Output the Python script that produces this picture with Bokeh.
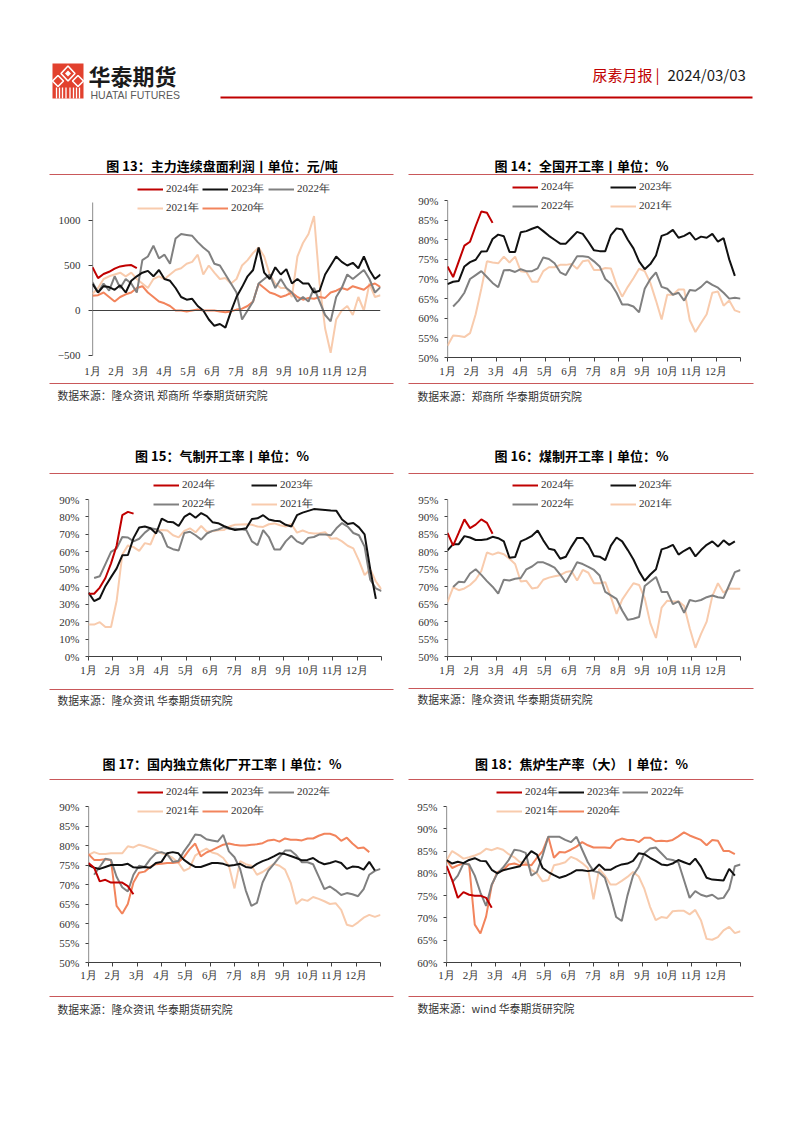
from bokeh.plotting import figure
from bokeh.layouts import column, row
from bokeh.models import Range1d, FixedTicker, PrintfTickFormatter, Legend, LegendItem, Span
from bokeh.embed import file_html
from bokeh.resources import INLINE
from bokeh.core.properties import value

# ---------------- data ----------------
MONTH_LABELS = ["1月", "2月", "3月", "4月", "5月", "6月", "7月", "8月", "9月", "10月", "11月", "12月"]

# Fig 13 profit (yuan/ton), weekly samples
p13_2024 = [480, 360, 405, 430, 465, 490, 500, 505, 470]
p13_2023 = [296, 200, 270, 260, 230, 280, 200, 330, 380, 420, 440, 380, 450, 350, 330, 250, 150, 120, 130, 50,
            0, -100, -170, -150, -190, -10, 150, 260, 380, 450, 700, 420, 350, 480, 400, 460, 300, 350, 300, 300,
            200, 220, 400, 500, 600, 540, 500, 530, 470, 600, 450, 350, 400]
p13_2022 = [315, 200, 300, 220, 380, 250, 350, 300, 200, 560, 600, 720, 580, 620, 520, 800, 850, 840, 830, 760,
            700, 650, 520, 500, 400, 300, 200, -100, 0, 100, 300, 350, 400, 250, 350, 250, 200, 100, 150, 100,
            250, 100, -50, -120, 150, 250, 400, 350, 400, 450, 350, 200, 260]
p13_2021 = [185, 250, 350, 380, 400, 420, 380, 420, 350, 300, 250, 350, 380, 350, 400, 450, 470, 520, 540, 620,
            400, 500, 420, 350, 360, 300, 350, 500, 560, 640, 700, 600, 400, 300, 250, 250, 150, 600, 750, 850,
            1050, 300, -200, -470, -100, 0, 50, -50, 150, 0, 300, 150, 170]
p13_2020 = [165, 170, 200, 150, 100, 150, 180, 200, 250, 270, 200, 150, 100, 80, 50, 0, 0, -10, 0, 10,
            0, 0, 0, -10, -20, -10, 10, 20, 50, 100, 300, 250, 200, 180, 150, 170, 200, 150, 120, 140,
            130, 150, 140, 200, 220, 250, 230, 270, 250, 230, 280, 300, 260]

# Fig 14 national operating rate (%)
p14_2024 = [73.2, 70.5, 74.5, 78.5, 79.5, 83.5, 87.2, 86.9, 84.3]
p14_2023 = [68.7, 69.3, 69.5, 73.2, 74.3, 74.9, 77.0, 77.1, 80.2, 81.3, 80.9, 76.9, 76.9, 81.9, 82.2, 82.8, 83.3,
            82.2, 81.0, 80.0, 79.0, 79.0, 80.5, 82.0, 81.5, 79.5, 77.3, 77.1, 77.1, 81.2, 82.9, 82.6, 80.0, 77.8,
            74.5, 72.5, 73.8, 76.0, 81.0, 81.5, 82.5, 80.5, 81.0, 81.8, 80.0, 80.8, 80.5, 81.5, 79.5, 80.4, 75.0, 70.8]
p14_2022 = [63.0, 64.5, 66.5, 70.0, 71.0, 72.0, 70.5, 69.0, 67.9, 72.2, 72.3, 71.8, 72.5, 72.0, 72.0, 72.7, 75.5,
            75.1, 74.0, 71.7, 71.0, 73.5, 75.8, 75.8, 75.6, 74.5, 73.2, 70.0, 68.8, 66.5, 63.5, 63.5, 63.0, 61.5,
            67.5, 70.0, 71.7, 68.0, 67.5, 66.0, 66.5, 64.5, 67.2, 67.0, 68.0, 69.4, 68.5, 67.8, 66.5, 65.0, 65.2, 65.0]
p14_2021 = [53.0, 55.6, 55.5, 55.2, 56.2, 61.0, 67.5, 74.5, 74.2, 74.0, 75.7, 74.2, 75.7, 72.0, 71.8, 69.3, 69.3,
            72.0, 73.0, 73.0, 73.6, 73.6, 73.8, 72.6, 74.5, 74.8, 72.3, 72.3, 72.8, 72.7, 68.5, 65.5, 68.0, 70.2,
            72.6, 72.0, 69.0, 64.5, 59.7, 66.0, 66.0, 67.3, 67.3, 59.5, 56.5, 58.8, 61.0, 66.5, 66.8, 63.2, 64.5,
            62.0, 61.5]

# Fig 15 gas-based operating rate (%)
p15_2024 = [36.0, 36.0, 39.5, 45.0, 53.4, 63.6, 81.0, 82.9, 81.9]
p15_2023 = [36.6, 31.8, 33.4, 40.3, 45.5, 50.5, 58.0, 58.2, 68.0, 74.0, 74.5, 73.5, 70.5, 79.0, 77.3, 77.0, 74.8,
            80.0, 82.0, 79.5, 82.2, 80.5, 77.0, 76.4, 74.8, 73.5, 72.5, 73.0, 73.5, 78.8, 79.2, 81.0, 78.5, 77.8,
            77.5, 75.5, 74.5, 81.0, 82.5, 83.5, 84.5, 84.3, 84.0, 83.7, 83.5, 78.5, 76.0, 76.5, 74.0, 70.0, 50.0, 33.0]
p15_2022 = [45.0, 46.0, 53.0, 60.0, 62.0, 68.5, 68.2, 66.0, 67.5, 71.0, 73.5, 73.0, 70.5, 63.0, 61.5, 60.8, 70.8,
            71.5, 69.5, 67.0, 70.5, 72.0, 72.8, 74.2, 73.2, 73.2, 73.0, 72.5, 66.0, 63.8, 72.5, 68.5, 61.3, 61.3,
            66.0, 69.2, 66.0, 64.5, 68.0, 68.5, 70.0, 70.0, 69.5, 73.5, 76.5, 74.5, 70.8, 69.5, 63.0, 44.0, 39.0, 37.5]
p15_2021 = [18.3, 18.3, 19.7, 16.9, 16.9, 32.0, 58.5, 63.7, 62.7, 60.6, 65.0, 64.2, 71.9, 72.5, 72.2, 69.5, 68.3,
            72.0, 73.5, 71.2, 74.8, 71.5, 71.8, 72.3, 72.5, 74.5, 75.5, 75.7, 75.8, 75.5, 74.5, 74.3, 75.8, 76.3,
            75.2, 74.5, 76.0, 71.0, 72.2, 71.0, 70.5, 70.6, 71.3, 67.5, 67.8, 66.0, 63.5, 62.0, 55.0, 46.7, 50.0,
            43.0, 38.5]

# Fig 16 coal-based operating rate (%)
p16_2024 = [85.4, 81.8, 85.5, 89.3, 86.8, 87.8, 89.3, 88.3, 85.2]
p16_2023 = [80.4, 82.2, 82.2, 84.5, 84.1, 83.4, 83.4, 83.6, 84.3, 83.9, 83.0, 78.3, 78.5, 83.0, 83.7, 84.6, 86.1,
            83.3, 80.9, 80.5, 78.0, 78.6, 81.5, 84.0, 84.0, 82.0, 78.8, 78.6, 77.6, 81.8, 84.1, 83.0, 80.5, 77.8,
            74.4, 71.7, 73.5, 75.0, 80.7, 81.2, 82.0, 79.2, 80.3, 81.2, 78.7, 80.5, 82.0, 83.0, 81.5, 83.3, 82.0, 83.0]
p16_2022 = [69.9, 71.4, 71.3, 73.8, 75.0, 73.4, 71.6, 70.0, 68.0, 72.0, 71.8, 72.3, 72.5, 75.0, 75.8, 77.0, 77.0,
            76.3, 75.5, 73.5, 71.2, 74.0, 77.0, 76.5, 75.7, 74.8, 73.2, 68.5, 67.5, 66.5, 63.2, 60.5, 60.8, 61.3,
            70.2, 71.5, 72.8, 68.5, 68.5, 65.0, 65.8, 62.5, 66.2, 65.8, 66.2, 67.0, 67.5, 67.0, 66.8, 70.5, 74.2, 74.8]
p16_2021 = [65.6, 69.8, 69.0, 69.5, 70.5, 72.0, 74.5, 79.8, 79.2, 79.8, 79.3, 78.0, 76.5, 71.5, 71.7, 69.5, 69.8,
            72.0, 72.6, 73.0, 73.3, 74.2, 74.5, 71.8, 74.8, 74.0, 71.0, 71.0, 71.3, 67.0, 62.2, 66.3, 68.7, 71.0,
            70.5, 66.7, 59.5, 55.3, 64.0, 66.0, 65.8, 65.8, 64.5, 58.0, 52.5, 56.5, 60.0, 67.3, 71.0, 68.3, 69.5,
            69.4, 69.4]

# Fig 17 independent coking plant operating rate (%)
p17_2024 = [75.5, 74.3, 70.8, 71.2, 70.5, 70.5, 70.5, 69.6, 67.5]
p17_2023 = [75.0, 74.3, 74.0, 74.5, 75.0, 75.0, 75.0, 75.3, 74.4, 74.3, 74.5, 74.3, 75.5, 75.8, 78.0, 78.3, 78.0,
            76.3, 75.3, 74.5, 74.5, 75.0, 75.5, 75.5, 75.3, 74.8, 75.0, 75.3, 74.5, 74.3, 75.3, 76.0, 76.5, 77.2,
            78.0, 77.8, 77.3, 76.8, 76.2, 76.3, 76.8, 75.8, 75.2, 75.5, 76.0, 75.5, 74.0, 74.6, 74.5, 73.8, 75.8, 73.6]
p17_2022 = [72.5, 74.5, 76.6, 76.3, 72.0, 69.3, 68.2, 72.5, 74.8, 74.5, 76.5, 78.0, 78.3, 77.8, 75.8, 76.0, 78.5,
            80.5, 82.8, 82.6, 81.6, 81.3, 81.0, 82.7, 78.5, 77.0, 74.0, 68.5, 64.5, 65.3, 70.5, 73.5, 75.2, 77.0,
            78.7, 78.7, 77.5, 75.7, 75.7, 75.2, 72.0, 68.8, 69.5, 68.5, 67.3, 67.8, 67.5, 67.0, 68.8, 72.5, 73.5, 74.0]
p17_2021 = [77.6, 78.3, 77.8, 77.8, 78.0, 78.0, 78.0, 79.8, 79.5, 80.2, 79.8, 79.3, 78.8, 78.0, 77.6, 76.8, 75.6,
            73.5, 74.2, 77.4, 78.4, 79.2, 78.2, 77.8, 76.8, 74.8, 69.0, 76.0, 75.2, 74.8, 72.5, 73.2, 74.2, 75.3,
            74.8, 73.8, 70.5, 65.0, 66.2, 65.8, 66.8, 66.3, 65.7, 65.0, 65.2, 63.5, 59.7, 59.3, 60.3, 61.5, 62.2,
            61.7, 62.2]
p17_2020 = [77.8, 76.3, 76.3, 76.5, 76.3, 64.5, 62.5, 65.0, 70.5, 73.0, 73.3, 74.5, 75.2, 75.3, 75.5, 75.5, 75.7,
            77.0, 79.0, 80.5, 77.2, 78.2, 78.8, 79.5, 80.2, 80.5, 80.2, 80.0, 80.0, 80.2, 80.3, 80.6, 81.3, 81.5,
            81.0, 81.8, 81.5, 81.5, 81.3, 81.8, 81.8, 82.5, 83.0, 83.0, 82.5, 81.2, 82.0, 80.5, 79.3, 79.5, 78.3]

# Fig 18 coke oven production rate (large, %)
p18_2024 = [81.7, 78.5, 74.5, 75.8, 75.2, 75.0, 75.0, 74.5, 72.3]
p18_2023 = [83.0, 82.2, 82.6, 82.3, 83.0, 83.4, 82.8, 82.7, 80.8, 80.0, 80.7, 81.0, 81.3, 81.6, 83.5, 85.0, 84.2,
            81.2, 80.3, 79.6, 79.0, 79.4, 80.0, 80.7, 80.7, 80.5, 80.7, 82.0, 80.8, 80.8, 81.5, 82.0, 82.2, 82.8,
            84.5, 84.3, 83.5, 82.8, 82.0, 81.8, 82.2, 83.0, 82.5, 82.0, 83.3, 81.5, 79.0, 78.6, 78.5, 78.4, 81.0, 79.5]
p18_2022 = [78.0, 79.5, 82.2, 82.0, 79.5, 75.7, 72.7, 77.5, 80.0, 81.3, 83.0, 85.3, 85.1, 84.6, 79.5, 80.3, 84.0,
            88.2, 88.2, 88.2, 87.5, 87.0, 88.2, 85.3, 82.5, 80.5, 80.2, 79.0, 75.0, 70.2, 69.3, 75.0, 79.5, 81.5,
            84.5, 85.6, 85.8, 84.5, 83.2, 83.0, 82.5, 78.5, 74.5, 76.0, 75.2, 74.8, 75.2, 74.3, 74.5, 76.5, 81.6, 82.0]
p18_2021 = [82.9, 85.0, 84.2, 83.3, 83.6, 84.0, 84.5, 85.5, 85.2, 85.7, 85.3, 84.3, 83.6, 82.5, 82.5, 80.8, 80.0,
            78.2, 78.5, 81.8, 82.1, 82.5, 83.7, 83.2, 82.3, 81.2, 74.2, 81.0, 79.5, 77.5, 77.5, 78.3, 79.2, 80.3,
            79.3, 76.5, 72.5, 69.5, 70.2, 70.0, 71.5, 71.6, 71.6, 70.8, 71.8, 69.5, 65.3, 65.1, 65.7, 67.2, 68.0,
            66.6, 67.0]
p18_2020 = [83.0, 81.2, 81.8, 82.2, 82.0, 68.5, 66.5, 70.3, 77.3, 80.3, 80.7, 82.0, 82.2, 81.8, 82.0, 81.8, 83.5,
            85.0, 88.2, 83.5, 84.8, 84.7, 85.3, 86.0, 87.0, 86.3, 85.8, 85.8, 85.8, 85.7, 87.3, 87.8, 87.5, 87.5,
            87.0, 88.0, 88.0, 87.2, 87.3, 87.2, 87.5, 88.3, 89.2, 88.5, 88.0, 87.5, 86.3, 87.5, 87.3, 85.0, 85.0, 84.3]

# ---------------- styles ----------------
COLORS = {"2024年": "#C00000", "2023年": "#111111", "2022年": "#808080", "2021年": "#F8CBAD", "2020年": "#F2845C"}
RULE = "#C9585A"
SERIF = "Liberation Serif"
CJK = "Noto Sans CJK SC"
AX = "#404040"
TXT = "#333333"

W = 794
L0, L1, R0, R1 = 0, 401, 401, 794
LRX = (49, 393)
RRX = (408, 753)


def deco_fig(y0, y1):
    return figure(width=W, height=y1 - y0, x_range=Range1d(0, W), y_range=Range1d(y1, y0),
                  output_backend="svg", toolbar_location=None, x_axis_type=None, y_axis_type=None,
                  min_border=0, outline_line_color=None, background_fill_color="white",
                  border_fill_color="white")


def add_title(p, title, ty, ry, rx):
    p.segment(x0=[rx[0]], y0=[ry], x1=[rx[1]], y1=[ry], line_color=RULE, line_width=1)
    p.text(x=[(rx[0] + rx[1]) / 2 + 0.5], y=[ty], text=[title], text_font=value(CJK),
           text_font_size=value("13px"), text_font_style="bold", text_align="center",
           text_baseline="middle", text_color="#000000")


def add_source(p, src, sx, sy, ry, rx):
    p.segment(x0=[rx[0]], y0=[ry], x1=[rx[1]], y1=[ry], line_color=RULE, line_width=1)
    p.text(x=[sx], y=[sy], text=[src], text_font=value(CJK), text_font_size=value("10.8px"),
           text_align="left", text_baseline="middle", text_color=TXT)


def chart_fig(px0, px1, gy0, gy1, fx0, fx1, ftop, fbot, ylo, ylo_px, yhi, yhi_px, yticks, pct,
              xtick_out, xstand):
    upp = (yhi - ylo) / (ylo_px - yhi_px)  # data units per pixel
    yr = Range1d(ylo - (fbot - ylo_px) * upp, yhi + (yhi_px - ftop) * upp)
    p = figure(width=px1 - px0, height=gy1 - gy0, x_range=Range1d(0, 12), y_range=yr,
               output_backend="svg", toolbar_location=None,
               min_border_left=fx0 - px0, min_border_right=px1 - fx1,
               min_border_top=ftop - gy0, min_border_bottom=gy1 - fbot,
               outline_line_color=None, background_fill_color="white", border_fill_color="white")
    p.xgrid.visible = False
    p.ygrid.visible = False
    xa = p.xaxis[0]
    xa.ticker = FixedTicker(ticks=list(range(13)))
    ov = {i: MONTH_LABELS[i] for i in range(12)}
    ov[12] = ""
    xa.major_label_overrides = ov
    xa.major_label_text_font = SERIF
    xa.major_label_text_font_size = "11px"
    xa.major_label_text_color = TXT
    xa.axis_line_color = AX
    xa.major_tick_line_color = AX
    xa.major_tick_in = 0
    xa.major_tick_out = xtick_out
    xa.minor_tick_line_color = None
    xa.major_label_standoff = xstand
    ya = p.yaxis[0]
    ya.ticker = FixedTicker(ticks=yticks)
    if pct:
        ya.formatter = PrintfTickFormatter(format="%d%%")
    ya.major_label_text_font = SERIF
    ya.major_label_text_font_size = "11px"
    ya.major_label_text_color = TXT
    ya.axis_line_color = None
    ya.major_tick_line_color = AX
    ya.major_tick_in = 0
    ya.major_tick_out = 3
    ya.minor_tick_line_color = None
    ya.major_label_standoff = 6
    # visible part of the value axis
    p.segment(x0=[0], y0=[ylo], x1=[0], y1=[yhi], line_color=AX, line_width=1.2)
    return p


def draw_series(p, series, fx0, fbot, legend_pos):
    rends = {}
    for label, vals, start in series:
        xs = [(start + i) * 12 / 52 for i in range(len(vals))]
        rends[label] = p.line(xs, vals, line_color=COLORS[label], line_width=2)
    for label, (lx, ly) in legend_pos.items():
        leg = Legend(items=[LegendItem(label=label, renderers=[rends[label]])],
                     location=(lx - fx0, fbot - ly - 6), glyph_width=26, glyph_height=12,
                     label_height=12, label_width=10, label_standoff=3, padding=0, margin=0, spacing=0,
                     border_line_color=None, background_fill_alpha=0,
                     label_text_font=SERIF, label_text_font_size="11px", label_text_color=TXT)
        p.add_layout(leg)


# ---------------- header + row-1 titles ----------------
hdr = deco_fig(0, 176)
hdr.quad(left=[52], right=[83], top=[63], bottom=[98], fill_color="#E2412E", line_color=None)
hdr.patches(xs=[[67.5, 74.5, 67.5, 60.5], [57.5, 63, 57.5, 52], [77.5, 83, 77.5, 72]],
            ys=[[65.5, 73, 80.5, 73], [75, 80.5, 86, 80.5], [75, 80.5, 86, 80.5]],
            fill_color=None, line_color="white", line_width=1.6)
hdr.patches(xs=[[67.5, 70.5, 67.5, 64.5]], ys=[[70, 73, 76, 73]], fill_color="white", line_color=None)
hdr.segment(x0=[56, 59, 62, 65.5, 69.5, 73, 76, 79], y0=[87] * 8,
            x1=[56, 59, 62, 65.5, 69.5, 73, 76, 79], y1=[98] * 8, line_color="white", line_width=1.3)
hdr.text(x=[88], y=[74.5], text=["华泰期货"], text_font=value(CJK), text_font_size=value("22px"),
         text_font_style="bold", text_align="left", text_baseline="middle", text_color="#1a1a1a")
hdr.text(x=[90], y=[94.5], text=["HUATAI FUTURES"], text_font=value("Liberation Sans"),
         text_font_size=value("10.5px"), text_align="left", text_baseline="middle", text_color="#5a5a5a")
hdr.text(x=[592], y=[74], text=["尿素月报"], text_font=value(CJK), text_font_size=value("15px"),
         text_align="left", text_baseline="middle", text_color="#C00000")
hdr.text(x=[655], y=[74], text=["|"], text_font=value(CJK), text_font_size=value("15px"),
         text_align="left", text_baseline="middle", text_color="#C00000")
hdr.text(x=[667], y=[74], text=["2024/03/03"], text_font=value(CJK), text_font_size=value("15px"),
         text_align="left", text_baseline="middle", text_color="#1a1a1a")
hdr.segment(x0=[220], y0=[97], x1=[752], y1=[97], line_color="#C00000", line_width=2)
add_title(hdr, "图 13：主力连续盘面利润丨单位：元/吨", 165, 174, LRX)
add_title(hdr, "图 14：全国开工率丨单位：%", 165, 174, RRX)

# ---------------- row 1 charts ----------------
c13 = chart_fig(L0, L1, 176, 380, 92, 380, 178, 357, -500, 355, 1200, 202, [-500, 0, 500, 1000], False, 0, 7)
c13.xaxis[0].axis_line_color = None
c13.yaxis[0].major_tick_out = 4
c13.yaxis[0].major_label_standoff = 8
c13.add_layout(Span(location=0, dimension="width", line_color=AX, line_width=1))
draw_series(c13, [("2021年", p13_2021, 0), ("2020年", p13_2020, 0), ("2022年", p13_2022, 0),
                  ("2023年", p13_2023, 0), ("2024年", p13_2024, 0)], 92, 357,
            {"2024年": (137, 190), "2023年": (202, 190), "2022年": (268, 190),
             "2021年": (137, 209), "2020年": (202, 209)})

c14 = chart_fig(R0, R1, 176, 380, 447, 740, 178, 357, 50, 357, 90, 200, list(range(50, 91, 5)), True, 4, 3)
draw_series(c14, [("2021年", p14_2021, 0), ("2022年", p14_2022, 1), ("2023年", p14_2023, 0),
                  ("2024年", p14_2024, 0)], 447, 357,
            {"2024年": (512, 188), "2023年": (610, 188), "2022年": (512, 207), "2021年": (610, 207)})

# ---------------- row-1 sources + row-2 titles ----------------
d1 = deco_fig(380, 475)
add_source(d1, "数据来源：隆众资讯 郑商所 华泰期货研究院", 57, 394, 383, LRX)
add_source(d1, "数据来源：郑商所 华泰期货研究院", 417, 395, 383, RRX)
add_title(d1, "图 15：气制开工率丨单位：%", 455, 473, LRX)
add_title(d1, "图 16：煤制开工率丨单位：%", 455, 473, RRX)

# ---------------- row 2 charts ----------------
c15 = chart_fig(L0, L1, 475, 680, 88, 381, 477, 656, 0, 656, 90, 499, list(range(0, 91, 10)), True, 4, 3)
draw_series(c15, [("2021年", p15_2021, 0), ("2022年", p15_2022, 1), ("2023年", p15_2023, 0),
                  ("2024年", p15_2024, 0)], 88, 656,
            {"2024年": (153, 486), "2023年": (251, 486), "2022年": (153, 505), "2021年": (251, 505)})

c16 = chart_fig(R0, R1, 475, 680, 447, 740, 477, 656, 50, 656, 95, 499, list(range(50, 96, 5)), True, 4, 3)
draw_series(c16, [("2021年", p16_2021, 0), ("2022年", p16_2022, 1), ("2023年", p16_2023, 0),
                  ("2024年", p16_2024, 0)], 447, 656,
            {"2024年": (512, 486), "2023年": (610, 486), "2022年": (512, 505), "2021年": (610, 505)})

# ---------------- row-2 sources + row-3 titles ----------------
d2 = deco_fig(680, 781)
add_source(d2, "数据来源：隆众资讯 华泰期货研究院", 57, 699, 689, LRX)
add_source(d2, "数据来源：隆众资讯 华泰期货研究院", 417, 698, 688, RRX)
add_title(d2, "图 17：国内独立焦化厂开工率丨单位：%", 763, 779, LRX)
add_title(d2, "图 18：焦炉生产率（大）丨单位：%", 763, 779, RRX)

# ---------------- row 3 charts ----------------
c17 = chart_fig(L0, L1, 781, 985, 88, 380, 783, 962, 50, 962, 90, 806, list(range(50, 91, 5)), True, 4, 2)
draw_series(c17, [("2021年", p17_2021, 0), ("2020年", p17_2020, 0), ("2022年", p17_2022, 1),
                  ("2023年", p17_2023, 0), ("2024年", p17_2024, 0)], 88, 962,
            {"2024年": (137, 793), "2023年": (202, 793), "2022年": (268, 793),
             "2021年": (137, 812), "2020年": (202, 812)})

c18 = chart_fig(R0, R1, 781, 985, 446, 740, 783, 962, 60, 962, 95, 806, list(range(60, 96, 5)), True, 4, 2)
draw_series(c18, [("2021年", p18_2021, 0), ("2020年", p18_2020, 0), ("2022年", p18_2022, 1),
                  ("2023年", p18_2023, 0), ("2024年", p18_2024, 0)], 446, 962,
            {"2024年": (496, 793), "2023年": (558, 793), "2022年": (622, 793),
             "2021年": (496, 812), "2020年": (558, 812)})

# ---------------- row-3 sources ----------------
d3 = deco_fig(985, 1025)
add_source(d3, "数据来源：隆众资讯 华泰期货研究院", 57, 1008, 996, LRX)
add_source(d3, "数据来源：wind 华泰期货研究院", 417, 1007, 996, RRX)

page = column(hdr, row(c13, c14), d1, row(c15, c16), d2, row(c17, c18), d3)

open("out.html", "w").write(file_html(page, INLINE))
